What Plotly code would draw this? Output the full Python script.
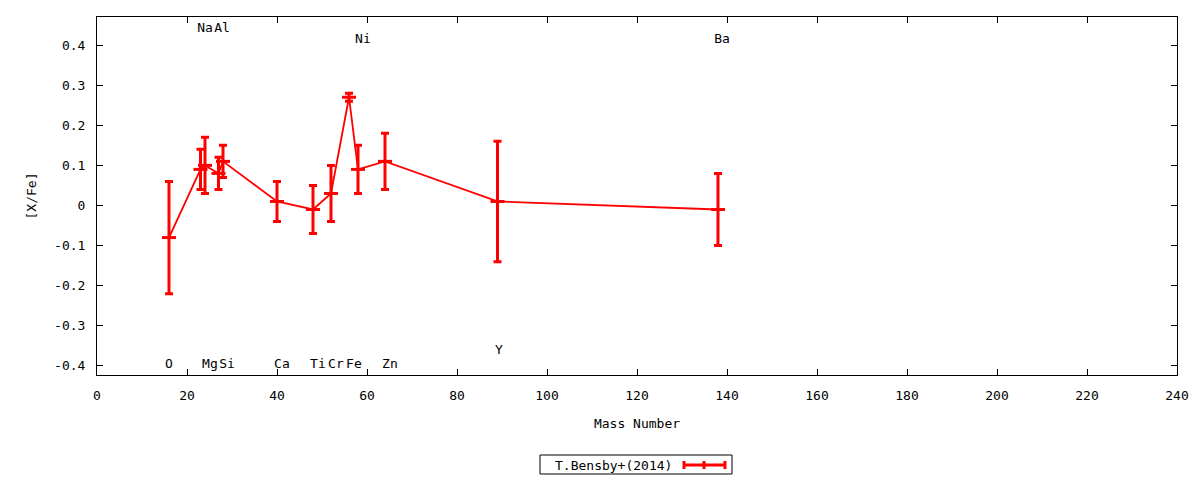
"""Abundance pattern [X/Fe] against mass number, T.Bensby+(2014)."""
import plotly.graph_objects as go

# element data
elements = ["O", "Na", "Mg", "Al", "Si", "Ca", "Ti", "Cr", "Fe", "Ni", "Zn", "Y", "Ba"]
mass_number = [16, 23, 24, 27, 28, 40, 48, 52, 56, 58, 64, 89, 138]
x_fe = [-0.08, 0.09, 0.10, 0.08, 0.11, 0.01, -0.01, 0.03, 0.27, 0.09, 0.11, 0.01, -0.01]
x_fe_err = [0.14, 0.05, 0.07, 0.04, 0.04, 0.05, 0.06, 0.07, 0.01, 0.06, 0.07, 0.15, 0.09]

# element name labels as placed on the chart
label_x = [16, 24, 25.1, 27.8, 28.9, 41.1, 49.1, 53.1, 57.1, 59.1, 65.1, 89.3, 138.9]
label_y = [-0.397, 0.441, -0.397, 0.441, -0.397, -0.397, -0.397, -0.397, -0.397, 0.414, -0.397, -0.362, 0.414]

series_name = "T.Bensby+(2014)"

FONT = dict(family="DejaVu Sans Mono", size=13, color="black")
RED = "#ff0000"


# positions measured on the page -> paper coordinates of the plot area
def px_to_paper_x(px):
    return (px - 97) / 1080


def px_to_paper_y(py):
    return (375 - py) / 358


fig = go.Figure()

# the data with error bars
fig.add_trace(go.Scatter(
    x=mass_number, y=x_fe, mode="lines+markers", name=series_name,
    line=dict(color=RED, width=1.8),
    marker=dict(symbol="line-ew", size=10, line=dict(color=RED, width=3)),
    error_y=dict(type="data", array=x_fe_err, visible=True,
                 color=RED, thickness=3, width=4),
    showlegend=False,
))

# element names
fig.add_trace(go.Scatter(
    x=label_x, y=label_y, mode="text", text=elements,
    textfont=FONT, showlegend=False, hoverinfo="skip",
))

# hand made legend: text on the left, sample on the right (gnuplot style)
fig.add_shape(type="rect", xref="paper", yref="paper",
              x0=px_to_paper_x(540), x1=px_to_paper_x(732),
              y0=px_to_paper_y(474), y1=px_to_paper_y(455),
              line=dict(color="black", width=1))
fig.add_annotation(x=px_to_paper_x(674), y=px_to_paper_y(465), xref="paper", yref="paper",
                   xanchor="right", yanchor="middle", text=series_name,
                   showarrow=False, font=FONT)
legend_y = px_to_paper_y(465)
fig.add_shape(type="line", xref="paper", yref="paper",
              x0=px_to_paper_x(684), x1=px_to_paper_x(725), y0=legend_y, y1=legend_y,
              line=dict(color=RED, width=3))
for cap_px in [684, 704, 725]:
    fig.add_shape(type="line", xref="paper", yref="paper",
                  x0=px_to_paper_x(cap_px), x1=px_to_paper_x(cap_px),
                  y0=px_to_paper_y(469), y1=px_to_paper_y(461),
                  line=dict(color=RED, width=3))

axis_style = dict(showline=True, linecolor="black", linewidth=1, mirror="ticks",
                  ticks="inside", ticklen=6, tickcolor="black",
                  showgrid=False, zeroline=False, tickfont=FONT)

# page body has an 8px margin, so the figure is a bit smaller than the window
fig.update_layout(
    width=1192, height=472,
    margin=dict(l=89, r=23, t=9, b=105),
    paper_bgcolor="white", plot_bgcolor="white",
    font=FONT,
    xaxis=dict(range=[0, 240], dtick=20, ticklabelstandoff=8,
               title=dict(text="Mass Number", font=FONT, standoff=17), **axis_style),
    yaxis=dict(range=[-0.4227, 0.470], tickvals=[-0.4, -0.3, -0.2, -0.1, 0, 0.1, 0.2, 0.3, 0.4],
               ticktext=["-0.4", "-0.3", "-0.2", "-0.1", "0", "0.1", "0.2", "0.3", "0.4"],
               ticklabelstandoff=8,
               title=dict(text="[X/Fe]", font=FONT, standoff=14), **axis_style),
)

fig.write_html("out.html")
